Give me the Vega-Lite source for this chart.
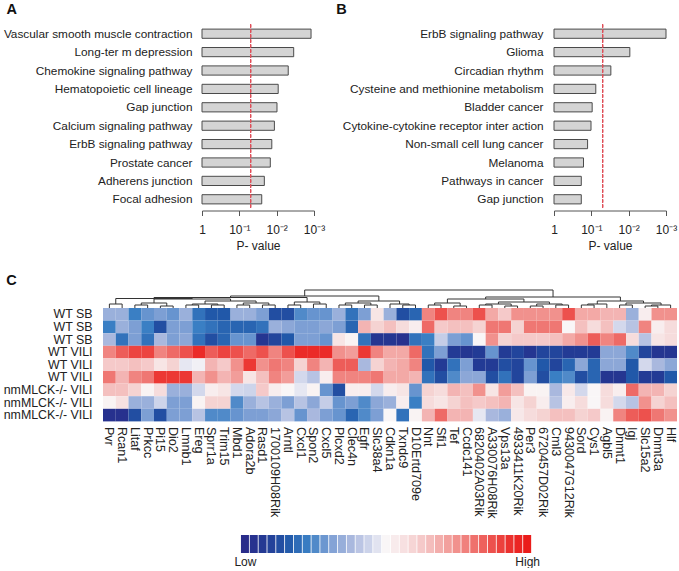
{
  "$schema": "https://vega.github.io/schema/vega-lite/v6.json",
  "background": "white",
  "padding": {"left": 2, "top": 1.5, "right": 0, "bottom": 0},
  "config": {
    "font": "Liberation Sans",
    "view": {"stroke": null},
    "axis": {"labelColor": "#222", "titleColor": "#222", "labelFont": "Liberation Sans", "titleFont": "Liberation Sans", "grid": false},
    "title": {"font": "Liberation Sans", "fontSize": 14.5, "fontWeight": "bold", "color": "#111", "anchor": "start", "frame": "bounds"}
  },
  "datasets": {
    "pathA": [
      {"t": "Vascular smooth muscle contraction", "p": 0.0012},
      {"t": "Long-ter m depression", "p": 0.0035},
      {"t": "Chemokine signaling pathway", "p": 0.0049},
      {"t": "Hematopoietic cell lineage", "p": 0.0091},
      {"t": "Gap junction", "p": 0.0098},
      {"t": "Calcium signaling pathway", "p": 0.0115},
      {"t": "ErbB signaling pathway", "p": 0.0135},
      {"t": "Prostate cancer", "p": 0.0148},
      {"t": "Adherens junction", "p": 0.0214},
      {"t": "Focal adhesion", "p": 0.0251}
    ],
    "pathB": [
      {"t": "ErbB signaling pathway", "p": 0.001},
      {"t": "Glioma", "p": 0.0093},
      {"t": "Circadian rhythm", "p": 0.030},
      {"t": "Cysteine and methionine metabolism", "p": 0.076},
      {"t": "Bladder cancer", "p": 0.095},
      {"t": "Cytokine-cytokine receptor inter action", "p": 0.102},
      {"t": "Non-small cell lung cancer", "p": 0.126},
      {"t": "Melanoma", "p": 0.162},
      {"t": "Pathways in cancer", "p": 0.186},
      {"t": "Gap junction", "p": 0.186}
    ],
    "heat": [
      {"g": "Pvr", "r1": -0.3, "r2": -0.55, "r3": -0.25, "r4": 0.55, "r5": 0.25, "r6": 0.6, "r7": 0.3, "r8": 0.02, "r9": -0.95},
      {"g": "Rcan1", "r1": -0.3, "r2": -0.3, "r3": -0.6, "r4": 0.7, "r5": 0.25, "r6": 0.35, "r7": 0.3, "r8": 0.12, "r9": -0.95},
      {"g": "Litaf", "r1": -0.55, "r2": -0.4, "r3": -0.4, "r4": 0.8, "r5": 0.3, "r6": 0.55, "r7": 0.2, "r8": -0.3, "r9": -0.75},
      {"g": "Prkcc", "r1": -0.45, "r2": -0.55, "r3": -0.6, "r4": 0.8, "r5": 0.25, "r6": 0.6, "r7": 0.02, "r8": -0.3, "r9": -0.4},
      {"g": "Pi15", "r1": -0.4, "r2": -0.75, "r3": -0.25, "r4": 0.55, "r5": 0.1, "r6": 0.85, "r7": 0.15, "r8": -0.12, "r9": -0.75},
      {"g": "Dio2", "r1": -0.45, "r2": -0.4, "r3": -0.4, "r4": 0.65, "r5": 0.2, "r6": 0.85, "r7": -0.3, "r8": -0.4, "r9": -0.4},
      {"g": "Lmnb1", "r1": -0.3, "r2": -0.4, "r3": -0.35, "r4": 0.75, "r5": -0.05, "r6": 0.85, "r7": -0.3, "r8": -0.4, "r9": -0.4},
      {"g": "Ereg", "r1": -0.6, "r2": -0.55, "r3": -0.6, "r4": 0.9, "r5": -0.02, "r6": 0.35, "r7": -0.1, "r8": 0.02, "r9": -0.2},
      {"g": "Sprr1a", "r1": -0.7, "r2": -0.6, "r3": -0.75, "r4": 0.7, "r5": 0.35, "r6": 0.5, "r7": 0.05, "r8": 0.2, "r9": -0.5},
      {"g": "Trim15", "r1": -0.7, "r2": -0.65, "r3": -0.65, "r4": 0.8, "r5": 0.25, "r6": 0.35, "r7": 0.1, "r8": 0.2, "r9": -0.5},
      {"g": "Mbd1", "r1": -0.3, "r2": -0.65, "r3": -0.45, "r4": 0.75, "r5": 0.5, "r6": 0.45, "r7": -0.1, "r8": -0.5, "r9": -0.45},
      {"g": "Adora2b", "r1": -0.3, "r2": -0.65, "r3": -0.45, "r4": 0.65, "r5": 0.85, "r6": 0.1, "r7": -0.12, "r8": -0.3, "r9": -0.4},
      {"g": "Rasd1", "r1": -0.4, "r2": -0.6, "r3": -0.9, "r4": 0.75, "r5": 0.5, "r6": 0.3, "r7": 0.25, "r8": -0.2, "r9": -0.4},
      {"g": "1700109H08Rik", "r1": -0.75, "r2": -0.3, "r3": -0.8, "r4": 0.55, "r5": 0.6, "r6": 0.55, "r7": 0.05, "r8": -0.3, "r9": -0.35},
      {"g": "Arntl", "r1": -0.75, "r2": -0.35, "r3": -0.7, "r4": 0.75, "r5": 0.55, "r6": 0.45, "r7": 0.0, "r8": -0.4, "r9": -0.2},
      {"g": "Cxcl1", "r1": -0.5, "r2": -0.4, "r3": -0.4, "r4": 0.9, "r5": 0.2, "r6": -0.1, "r7": -0.05, "r8": -0.2, "r9": -0.45},
      {"g": "Spon2", "r1": -0.45, "r2": -0.4, "r3": -0.4, "r4": 0.9, "r5": 0.55, "r6": -0.2, "r7": 0.02, "r8": -0.35, "r9": -0.25},
      {"g": "Cxcl5", "r1": -0.45, "r2": -0.35, "r3": -0.45, "r4": 0.9, "r5": 0.35, "r6": 0.05, "r7": -0.45, "r8": -0.15, "r9": -0.4},
      {"g": "Plcxd2", "r1": -0.3, "r2": -0.4, "r3": 0.1, "r4": 0.5, "r5": 0.7, "r6": 0.55, "r7": -0.75, "r8": -0.45, "r9": -0.45},
      {"g": "Clec4n", "r1": -0.6, "r2": -0.65, "r3": 0.02, "r4": 0.45, "r5": 0.7, "r6": 0.55, "r7": 0.05, "r8": -0.4, "r9": -0.65},
      {"g": "Egfr", "r1": -0.4, "r2": 0.35, "r3": -0.6, "r4": 0.85, "r5": -0.25, "r6": 0.55, "r7": 0.05, "r8": -0.5, "r9": -0.5},
      {"g": "Slc38a4", "r1": 0.1, "r2": 0.2, "r3": -0.9, "r4": 0.55, "r5": 0.2, "r6": 0.6, "r7": -0.1, "r8": -0.35, "r9": -0.4},
      {"g": "Cdkn1a", "r1": -0.3, "r2": 0.3, "r3": -0.9, "r4": 0.4, "r5": 0.35, "r6": 0.4, "r7": 0.05, "r8": -0.3, "r9": 0.0},
      {"g": "Txndc9", "r1": -0.75, "r2": 0.15, "r3": -0.95, "r4": 0.4, "r5": 0.4, "r6": 0.4, "r7": 0.1, "r8": 0.05, "r9": -0.6},
      {"g": "D10Ertd709e", "r1": -0.65, "r2": 0.05, "r3": -0.6, "r4": 0.65, "r5": 0.55, "r6": 0.35, "r7": -0.45, "r8": -0.55, "r9": 0.02},
      {"g": "Nnt", "r1": 0.55, "r2": 0.65, "r3": -0.55, "r4": -0.6, "r5": -0.7, "r6": -0.6, "r7": 0.2, "r8": 0.15, "r9": 0.35},
      {"g": "Sfi1", "r1": 0.75, "r2": 0.25, "r3": -0.15, "r4": -0.4, "r5": -0.85, "r6": -0.75, "r7": 0.15, "r8": 0.1, "r9": 0.65},
      {"g": "Tef", "r1": 0.55, "r2": 0.3, "r3": -0.4, "r4": -0.85, "r5": -0.6, "r6": -0.5, "r7": 0.35, "r8": 0.2, "r9": 0.35},
      {"g": "Ccdc141", "r1": 0.55, "r2": 0.3, "r3": -0.45, "r4": -0.9, "r5": -0.4, "r6": -0.35, "r7": 0.3, "r8": 0.3, "r9": 0.35},
      {"g": "6820402A03Rik", "r1": 0.75, "r2": 0.2, "r3": 0.0, "r4": -0.85, "r5": -0.85, "r6": -0.35, "r7": 0.5, "r8": 0.25, "r9": -0.05},
      {"g": "A330076H08Rik", "r1": 0.4, "r2": 0.6, "r3": 0.5, "r4": -0.45, "r5": -0.85, "r6": -0.75, "r7": 0.1, "r8": 0.3, "r9": -0.25},
      {"g": "Vps13a", "r1": 0.25, "r2": 0.6, "r3": 0.2, "r4": -0.85, "r5": -0.75, "r6": -0.6, "r7": 0.45, "r8": 0.35, "r9": -0.3},
      {"g": "4933411K20Rik", "r1": 0.5, "r2": 0.2, "r3": 0.25, "r4": -0.8, "r5": -0.8, "r6": -0.8, "r7": 0.3, "r8": 0.1, "r9": 0.08},
      {"g": "Per3", "r1": 0.5, "r2": 0.6, "r3": 0.25, "r4": -0.9, "r5": -0.45, "r6": -0.4, "r7": 0.02, "r8": 0.2, "r9": 0.15},
      {"g": "6720457D02Rik", "r1": 0.5, "r2": 0.6, "r3": 0.25, "r4": -0.8, "r5": -0.7, "r6": -0.75, "r7": 0.02, "r8": 0.05, "r9": 0.2},
      {"g": "Cml3", "r1": 0.5, "r2": 0.6, "r3": 0.3, "r4": -0.8, "r5": -0.8, "r6": -0.55, "r7": -0.25, "r8": -0.2, "r9": 0.3},
      {"g": "9430047G12Rik", "r1": 0.75, "r2": 0.0, "r3": 0.4, "r4": -0.85, "r5": -0.65, "r6": -0.5, "r7": 0.08, "r8": 0.05, "r9": 0.3},
      {"g": "Sord", "r1": 0.4, "r2": 0.3, "r3": 0.5, "r4": -0.85, "r5": -0.35, "r6": -0.75, "r7": -0.1, "r8": 0.15, "r9": 0.2},
      {"g": "Cys1", "r1": 0.4, "r2": 0.15, "r3": 0.7, "r4": -0.85, "r5": -0.65, "r6": -0.65, "r7": 0.0, "r8": 0.0, "r9": 0.25},
      {"g": "Agbl5", "r1": 0.35, "r2": 0.3, "r3": 0.55, "r4": -0.35, "r5": -0.35, "r6": -0.9, "r7": 0.15, "r8": 0.15, "r9": 0.02},
      {"g": "Dnmt1", "r1": 0.35, "r2": -0.1, "r3": 0.65, "r4": -0.35, "r5": -0.35, "r6": -0.9, "r7": 0.05, "r8": -0.1, "r9": 0.55},
      {"g": "Igj", "r1": -0.3, "r2": -0.2, "r3": 0.15, "r4": -0.5, "r5": -0.7, "r6": -0.7, "r7": 0.65, "r8": -0.2, "r9": 0.7},
      {"g": "Slc15a2", "r1": 0.05, "r2": 0.55, "r3": -0.2, "r4": -0.8, "r5": -0.1, "r6": -0.85, "r7": 0.35, "r8": 0.5, "r9": 0.75},
      {"g": "Dnmt3a", "r1": 0.5, "r2": 0.05, "r3": 0.1, "r4": -0.9, "r5": -0.25, "r6": -0.85, "r7": 0.35, "r8": 0.2, "r9": 0.6},
      {"g": "Hlf", "r1": 0.5, "r2": 0.15, "r3": 0.15, "r4": -0.9, "r5": -0.35, "r6": -0.7, "r7": 0.2, "r8": 0.3, "r9": 0.5}
    ],
    "dendro": [
      {"x1": 0, "h1": 0, "x2": 1, "h2": 0, "h": 4},
      {"x1": 2, "h1": 0, "x2": 3, "h2": 0, "h": 3},
      {"x1": 4, "h1": 0, "x2": 5, "h2": 0, "h": 2},
      {"x1": 2.5, "h1": 3, "x2": 4.5, "h2": 2, "h": 5},
      {"x1": 6, "h1": 0, "x2": 7, "h2": 0, "h": 3},
      {"x1": 8, "h1": 0, "x2": 9, "h2": 0, "h": 3},
      {"x1": 6.5, "h1": 3, "x2": 8.5, "h2": 3, "h": 4},
      {"x1": 10, "h1": 0, "x2": 11, "h2": 0, "h": 3},
      {"x1": 12, "h1": 0, "x2": 13, "h2": 0, "h": 3},
      {"x1": 10.5, "h1": 3, "x2": 12.5, "h2": 3, "h": 5},
      {"x1": 7.5, "h1": 4, "x2": 11.5, "h2": 5, "h": 7},
      {"x1": 3.5, "h1": 5, "x2": 9.5, "h2": 7, "h": 9},
      {"x1": 0.5, "h1": 4, "x2": 6.5, "h2": 9, "h": 9.5},
      {"x1": 14, "h1": 0, "x2": 15, "h2": 0, "h": 3},
      {"x1": 16, "h1": 0, "x2": 17, "h2": 0, "h": 4},
      {"x1": 14.5, "h1": 3, "x2": 16.5, "h2": 4, "h": 6},
      {"x1": 3.5, "h1": 9.5, "x2": 15.5, "h2": 6, "h": 10.5},
      {"x1": 18, "h1": 0, "x2": 19, "h2": 0, "h": 3},
      {"x1": 20, "h1": 0, "x2": 21, "h2": 0, "h": 3},
      {"x1": 18.5, "h1": 3, "x2": 20.5, "h2": 3, "h": 5},
      {"x1": 23, "h1": 0, "x2": 24, "h2": 0, "h": 3},
      {"x1": 22, "h1": 0, "x2": 23.5, "h2": 3, "h": 4},
      {"x1": 19.5, "h1": 5, "x2": 22.75, "h2": 4, "h": 7},
      {"x1": 9.5, "h1": 10.5, "x2": 21.125, "h2": 7, "h": 12},
      {"x1": 25, "h1": 0, "x2": 26, "h2": 0, "h": 3},
      {"x1": 27, "h1": 0, "x2": 28, "h2": 0, "h": 2},
      {"x1": 25.5, "h1": 3, "x2": 27.5, "h2": 2, "h": 5},
      {"x1": 29, "h1": 0, "x2": 30, "h2": 0, "h": 3},
      {"x1": 31, "h1": 0, "x2": 32, "h2": 0, "h": 2},
      {"x1": 29.5, "h1": 3, "x2": 31.5, "h2": 2, "h": 4},
      {"x1": 33, "h1": 0, "x2": 34, "h2": 0, "h": 2},
      {"x1": 35, "h1": 0, "x2": 36, "h2": 0, "h": 3},
      {"x1": 33.5, "h1": 2, "x2": 35.5, "h2": 3, "h": 4},
      {"x1": 30.5, "h1": 4, "x2": 34.5, "h2": 4, "h": 6},
      {"x1": 26.5, "h1": 5, "x2": 32.5, "h2": 6, "h": 9},
      {"x1": 37, "h1": 0, "x2": 38, "h2": 0, "h": 3},
      {"x1": 37.5, "h1": 3, "x2": 39, "h2": 0, "h": 4},
      {"x1": 40, "h1": 0, "x2": 41, "h2": 0, "h": 3},
      {"x1": 42, "h1": 0, "x2": 43, "h2": 0, "h": 2},
      {"x1": 42.5, "h1": 2, "x2": 44, "h2": 0, "h": 3},
      {"x1": 40.5, "h1": 3, "x2": 43.25, "h2": 3, "h": 5},
      {"x1": 38.25, "h1": 4, "x2": 41.875, "h2": 5, "h": 7},
      {"x1": 29.5, "h1": 9, "x2": 40.0625, "h2": 7, "h": 11},
      {"x1": 15.3125, "h1": 12, "x2": 34.78125, "h2": 11, "h": 18}
    ],
    "legend": [
      {"value": -1}, {"value": -0.9375}, {"value": -0.875}, {"value": -0.8125},
      {"value": -0.75}, {"value": -0.6875}, {"value": -0.625}, {"value": -0.5625},
      {"value": -0.5}, {"value": -0.4375}, {"value": -0.375}, {"value": -0.3125},
      {"value": -0.25}, {"value": -0.1875}, {"value": -0.125}, {"value": -0.0625},
      {"value": 0},
      {"value": 0.0625}, {"value": 0.125}, {"value": 0.1875}, {"value": 0.25},
      {"value": 0.3125}, {"value": 0.375}, {"value": 0.4375}, {"value": 0.5},
      {"value": 0.5625}, {"value": 0.625}, {"value": 0.6875}, {"value": 0.75},
      {"value": 0.8125}, {"value": 0.875}, {"value": 0.9375}, {"value": 1}
    ],
    "none": []
  },
  "columns": 2,
  "align": "none",
  "spacing": {"row": 21.5, "column": 0},
  "concat": [
    {"width": 1, "height": 1, "data": {"name": "none"}, "mark": {"type": "point", "opacity": 0}},
    {
      "spacing": 11,
      "hconcat": [
        {
          "title": {"text": "A", "offset": 7, "dx": 3},
          "width": 112,
          "height": 184,
          "data": {"name": "pathA"},
          "layer": [
            {
              "mark": {"type": "bar", "fill": "#d4d4d4", "stroke": "#4a4a4a", "strokeWidth": 1},
              "encoding": {
                "y": {"field": "t", "type": "nominal", "sort": null, "scale": {"paddingInner": 0.5, "paddingOuter": 0.25}, "axis": {"title": null, "ticks": false, "domain": false, "labelPadding": 10, "labelFontSize": 11.8, "labelLimit": 400}},
                "x": {"field": "p", "type": "quantitative", "scale": {"type": "log", "domain": [0.001, 1], "reverse": true}, "axis": {"values": [1, 0.1, 0.01, 0.001], "labelExpr": "datum.value >= 1 ? '1' : datum.value >= 0.1 ? '10⁻¹' : datum.value >= 0.01 ? '10⁻²' : '10⁻³'", "title": "P- value", "offset": 2, "tickSize": 5, "tickColor": "#555", "domainColor": "#555", "labelFontSize": 12, "titleFontSize": 12, "titleFontWeight": "normal", "labelPadding": 9, "titlePadding": 5, "labelFlush": false, "labelOverlap": false}},
                "x2": {"datum": 1}
              }
            },
            {
              "mark": {"type": "rule", "color": "#e0505a", "strokeDash": [3, 2], "strokeWidth": 1},
              "encoding": {"x": {"datum": 0.05}}
            }
          ]
        },
        {
          "title": {"text": "B", "offset": 7, "dx": -6},
          "width": 112,
          "height": 184,
          "data": {"name": "pathB"},
          "layer": [
            {
              "mark": {"type": "bar", "fill": "#d4d4d4", "stroke": "#4a4a4a", "strokeWidth": 1},
              "encoding": {
                "y": {"field": "t", "type": "nominal", "sort": null, "scale": {"paddingInner": 0.5, "paddingOuter": 0.25}, "axis": {"title": null, "ticks": false, "domain": false, "labelPadding": 11, "labelFontSize": 11.8, "labelLimit": 400}},
                "x": {"field": "p", "type": "quantitative", "scale": {"type": "log", "domain": [0.001, 1], "reverse": true}, "axis": {"values": [1, 0.1, 0.01, 0.001], "labelExpr": "datum.value >= 1 ? '1' : datum.value >= 0.1 ? '10⁻¹' : datum.value >= 0.01 ? '10⁻²' : '10⁻³'", "title": "P- value", "offset": 2, "tickSize": 5, "tickColor": "#555", "domainColor": "#555", "labelFontSize": 12, "titleFontSize": 12, "titleFontWeight": "normal", "labelPadding": 9, "titlePadding": 5, "labelFlush": false, "labelOverlap": false}},
                "x2": {"datum": 1}
              }
            },
            {
              "mark": {"type": "rule", "color": "#e0505a", "strokeDash": [3, 2], "strokeWidth": 1},
              "encoding": {"x": {"datum": 0.05}}
            }
          ]
        }
      ]
    },
    {"width": 1, "height": 1, "data": {"name": "none"}, "mark": {"type": "point", "opacity": 0}},
    {
      "spacing": 113,
      "bounds": "flush",
      "vconcat": [
        {
          "title": {"text": "C", "offset": 1, "dx": 3},
          "width": 574,
          "height": 131.4,
          "layer": [
            {
              "data": {"name": "heat"},
              "transform": [{"fold": ["r1", "r2", "r3", "r4", "r5", "r6", "r7", "r8", "r9"], "as": ["row", "value"]}],
              "mark": {"type": "rect"},
              "encoding": {
                "x": {"field": "g", "type": "nominal", "sort": null, "scale": {"paddingInner": 0, "paddingOuter": 0}, "axis": {"title": null, "labelAngle": 90, "ticks": false, "domain": false, "labelPadding": 5, "labelFontSize": 12.6}},
                "y": {"field": "row", "type": "nominal", "sort": "ascending", "scale": {"paddingInner": 0, "paddingOuter": 0.7143, "align": 1}, "axis": {"title": null, "ticks": false, "domain": false, "labelPadding": 11, "labelFontSize": 12.4, "labelExpr": "['WT SB','WT SB','WT SB','WT VILI','WT VILI','WT VILI','nmMLCK-/- VILI','nmMLCK-/- VILI','nmMLCK-/- VILI'][toNumber(slice(datum.value, 1)) - 1]"}},
                "color": {"field": "value", "type": "quantitative", "legend": null, "scale": {"domain": [-1, -0.85, -0.7, -0.55, -0.4, -0.25, -0.1, 0, 0.15, 0.3, 0.5, 0.65, 0.8, 0.9, 1], "range": ["#292c8a", "#233b95", "#2158a9", "#3a7fc4", "#7d9fd4", "#a9b8de", "#d3d8ec", "#f9f6f7", "#f6dcdc", "#f4c0bf", "#f1918d", "#ee6a66", "#ec4440", "#eb2b28", "#ea1c1a"], "interpolate": "rgb"}}
              }
            },
            {
              "data": {"name": "dendro"},
              "layer": [
                {
                  "mark": {"type": "rule", "color": "#333", "strokeWidth": 1},
                  "encoding": {
                    "x": {"field": "x1", "type": "quantitative", "scale": {"domain": [-0.5, 44.5], "nice": false, "zero": false}, "axis": null},
                    "x2": {"field": "x2"},
                    "y": {"field": "h", "type": "quantitative", "scale": {"domain": [-113.4, 18], "nice": false, "zero": false}, "axis": null}
                  }
                },
                {
                  "mark": {"type": "rule", "color": "#333", "strokeWidth": 1},
                  "encoding": {
                    "x": {"field": "x1", "type": "quantitative", "scale": {"domain": [-0.5, 44.5], "nice": false, "zero": false}, "axis": null},
                    "y": {"field": "h1", "type": "quantitative", "scale": {"domain": [-113.4, 18], "nice": false, "zero": false}, "axis": null},
                    "y2": {"field": "h"}
                  }
                },
                {
                  "mark": {"type": "rule", "color": "#333", "strokeWidth": 1},
                  "encoding": {
                    "x": {"field": "x2", "type": "quantitative", "scale": {"domain": [-0.5, 44.5], "nice": false, "zero": false}, "axis": null},
                    "y": {"field": "h2", "type": "quantitative", "scale": {"domain": [-113.4, 18], "nice": false, "zero": false}, "axis": null},
                    "y2": {"field": "h"}
                  }
                }
              ]
            }
          ],
          "resolve": {"scale": {"x": "independent", "y": "independent"}}
        },
        {
          "width": 574,
          "height": 18,
          "data": {"name": "legend"},
          "mark": {"type": "tick", "thickness": 8, "size": 18, "orient": "vertical", "opacity": 1},
          "encoding": {
            "x": {"field": "value", "type": "quantitative", "scale": {"domain": [-2.006, 2.062], "nice": false, "zero": false}, "axis": {"values": [-1, 1], "labelExpr": "datum.value < 0 ? 'Low' : 'High'", "title": null, "domain": false, "ticks": false, "grid": false, "labelPadding": 3, "labelFontSize": 12, "labelFlush": false}},
            "color": {"field": "value", "type": "quantitative", "legend": null, "scale": {"domain": [-1, -0.85, -0.7, -0.55, -0.4, -0.25, -0.1, 0, 0.15, 0.3, 0.5, 0.65, 0.8, 0.9, 1], "range": ["#292c8a", "#233b95", "#2158a9", "#3a7fc4", "#7d9fd4", "#a9b8de", "#d3d8ec", "#f9f6f7", "#f6dcdc", "#f4c0bf", "#f1918d", "#ee6a66", "#ec4440", "#eb2b28", "#ea1c1a"], "interpolate": "rgb"}}
          }
        }
      ]
    }
  ]
}
